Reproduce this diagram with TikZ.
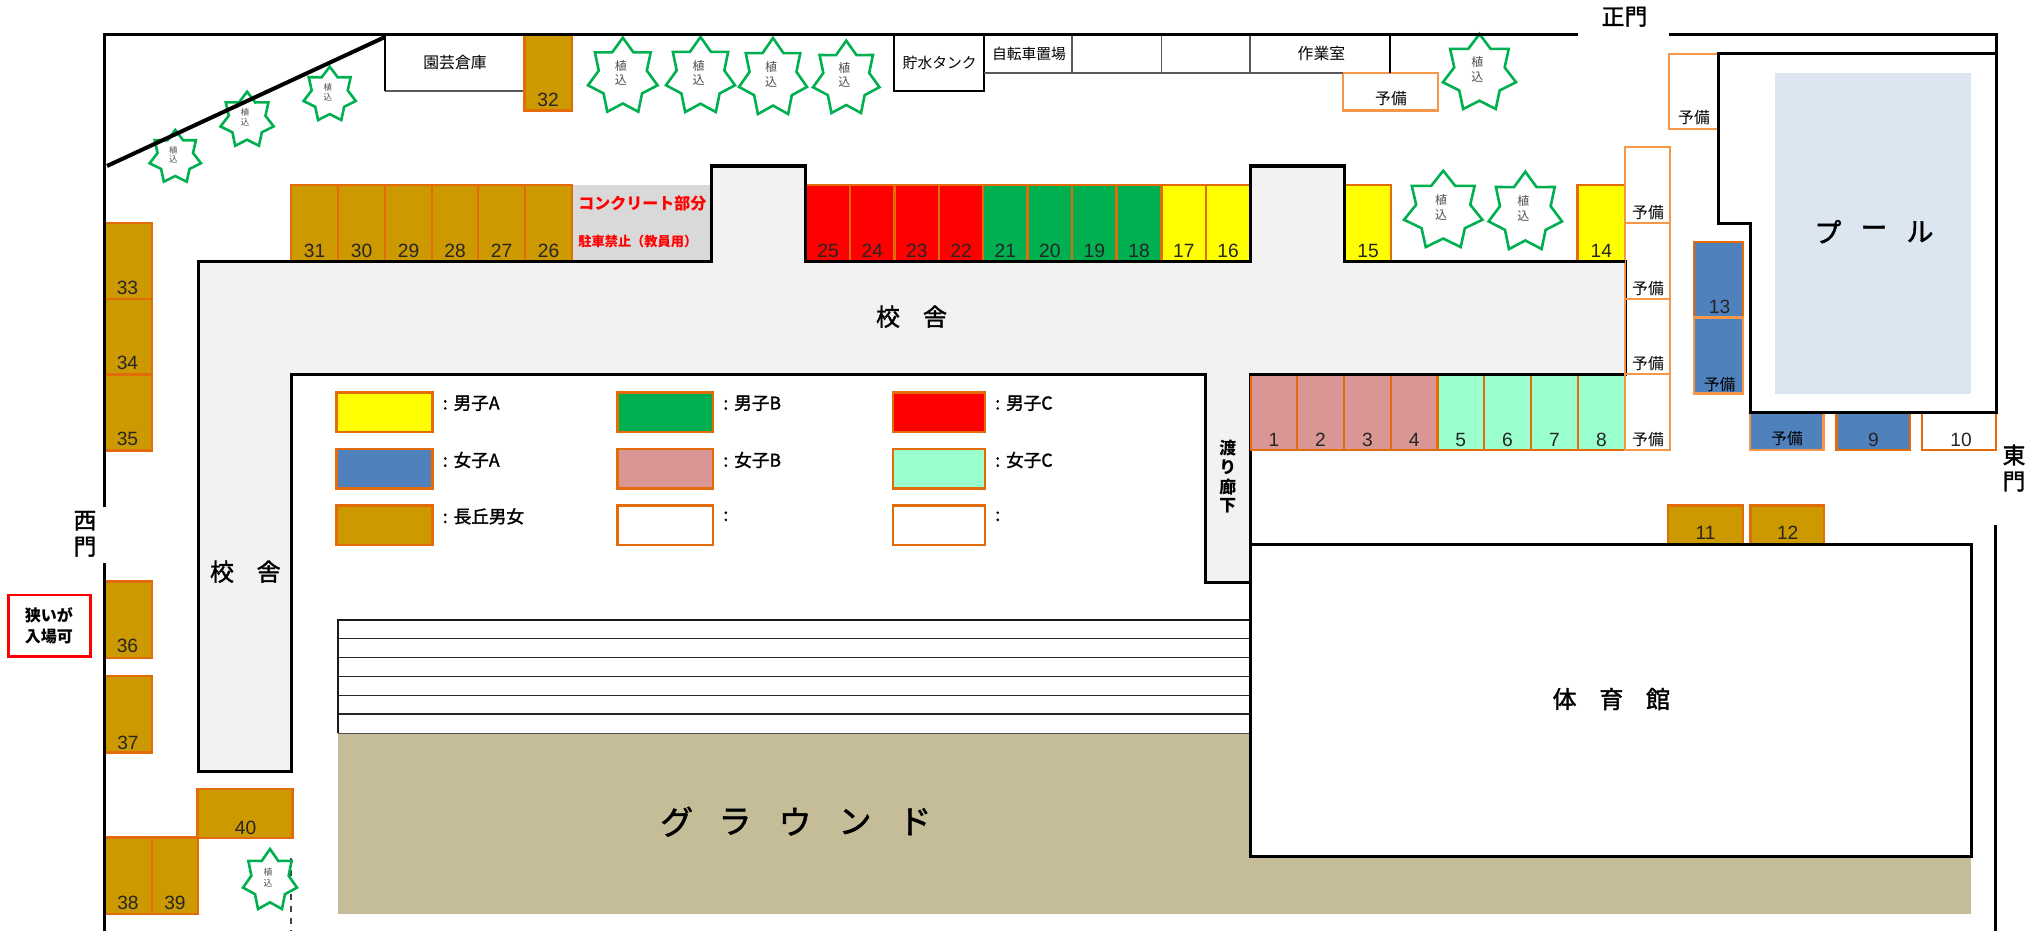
\documentclass[tikz,border=0pt]{standalone}
\usepackage{fontspec}
\setmainfont{Noto Sans CJK JP}
\newfontfamily\medjp[FakeBold=1.6]{Noto Sans CJK JP}
\newfontfamily\numfont{Liberation Sans}
\definecolor{cYel}{HTML}{FFFF00}
\definecolor{cGrn}{HTML}{00B050}
\definecolor{cRed}{HTML}{FF0000}
\definecolor{cBlu}{HTML}{4F81BD}
\definecolor{cPnk}{HTML}{D99694}
\definecolor{cMnt}{HTML}{99FFCC}
\definecolor{cBrn}{HTML}{CC9900}
\definecolor{cBld}{HTML}{F2F2F2}
\definecolor{cCon}{HTML}{D9D9D9}
\definecolor{cPol}{HTML}{DCE6F1}
\definecolor{cGnd}{HTML}{C4BD97}
\definecolor{cOrD}{HTML}{E36C0A}
\definecolor{cOrL}{HTML}{F79646}
\definecolor{cLine}{HTML}{595959}
\newcommand\fz[1]{\fontsize{#1}{#1}\selectfont}
\tikzset{
  wall/.style={draw=black,line width=1.5pt,line cap=butt,line join=miter},
  lightwall/.style={draw=cLine,line width=0.9pt},
  bay/.style={draw=cOrD,line width=1.25pt},
  spare/.style={draw=cOrL,line width=1.25pt},
  num/.style={font=\numfont\fz{9.6},text=black!85,inner sep=0pt},
  lab/.style={font=\fz{7.9},text=black,inner sep=0pt},
  big/.style={font=\medjp\fz{12},text=black,inner sep=0pt},
  plantline/.style={draw=cGrn,fill=white,line width=1.3pt,line join=miter},
  key/.style={font=\medjp\fz{8.8},text=black,inner sep=0pt,anchor=west},
}
% x1 y1 x2 y2 fill label labelx labely
\newcommand\bayrect[8]{%
  \draw[bay,fill=#5] (#1,#2) rectangle (#3,#4);
  \node[num] at (#7,#8) {#6};}
\newcommand\sparerect[8]{%
  \draw[spare,fill=#5] (#1,#2) rectangle (#3,#4);
  \node[lab] at (#7,#8) {#6};}
% left right top bottom size spacing
\newcommand\plantstar[6]{%
  \pgfmathsetmacro\stCx{(#1+#2)/2}
  \pgfmathsetmacro\stRx{(#2-#1)/1.95}
  \pgfmathsetmacro\stRy{(#4-#3)/1.9}
  \pgfmathsetmacro\stCy{#3+\stRy}
  \draw[plantline] plot[samples at={0,...,13},variable=\k]
    ({\stCx+(mod(\k,2)==0?1:0.69)*\stRx*cos(90+\k*360/14)},
     {\stCy-(mod(\k,2)==0?1:0.69)*\stRy*sin(90+\k*360/14)}) -- cycle;
  \node[font=\fz{#5},text=black!70,inner sep=0pt] at (\stCx-2,\stCy-#6*0.75) {植};
  \node[font=\fz{#5},text=black!70,inner sep=0pt] at (\stCx-2,\stCy+#6*0.25) {込};}
\begin{document}
\begin{tikzpicture}[x=0.5pt,y=-0.5pt]
\useasboundingbox (0,0) rectangle (2040,931);
% ground
\fill[cGnd] (338,733) rectangle (1971,914);
\fill[cPol] (1775,72.7) rectangle (1971.4,393.7);
\node[font=\medjp\fz{13.5},inner sep=0pt] at (1827.8,231.7) {プ};
\node[font=\medjp\fz{13.5},inner sep=0pt] at (1874,231.7) {ー};
\node[font=\medjp\fz{13.5},inner sep=0pt] at (1920,231.7) {ル};
\foreach \gx/\gt in {676.7/グ,735/ラ,795/ウ,855/ン,915/ド}
  \node[font=\medjp\fz{16.5},inner sep=0pt] at (\gx,821.7) {\gt};
% concrete
\fill[cCon] (573,185) rectangle (711,261);
\node[font=\bfseries\fz{8},text=cRed,inner sep=0pt,anchor=west] at (578,203.3) {コンクリート部分};
\node[font=\bfseries\fz{6.6},text=cRed,inner sep=0pt,anchor=west] at (578,241) {駐車禁止（教員用）};
% school building
\draw[wall,fill=cBld] (198,261) -- (711,261) -- (711,166) -- (805,166) -- (805,261)
  -- (1250,261) -- (1250,166) -- (1344,166) -- (1344,261) -- (1625,261) -- (1625,374)
  -- (1250,374) -- (1250,582) -- (1205.5,582) -- (1205.5,374) -- (291.5,374)
  -- (291.5,771.7) -- (198,771.7) -- cycle;
\node[big] at (888,316.7) {校};
\node[big] at (935,316.7) {舎};
\node[big] at (222,571.7) {校};
\node[big] at (268.7,571.7) {舎};
\foreach \wy/\wt in {448/渡,467.4/り,487/廊,505.6/下}
  \node[font=\bfseries\fz{8.4},inner sep=0pt] at (1227.7,\wy) {\wt};
% bays along the north side of the school
\foreach \xa/\xb/\n/\c in {291/338/31/cBrn,338/385/30/cBrn,385/432/29/cBrn,432/478/28/cBrn,478/525/27/cBrn,525/572/26/cBrn,
  806/850/25/cRed,850/894.6/24/cRed,894.6/939/23/cRed,939/983/22/cRed,983/1027.7/21/cGrn,1027.7/1072/20/cGrn,1072/1116.5/19/cGrn,1116.5/1161.6/18/cGrn,1161.6/1206/17/cYel,1206/1250/16/cYel,
  1345/1391/15/cYel,1577.5/1625/14/cYel}
  {\draw[bay,fill=\c] (\xa,185) rectangle (\xb,261);
   \pgfmathsetmacro\mx{(\xa+\xb)/2}
   \node[num] at (\mx,251) {\n};}
% bays 1-8
\foreach \xa/\xb/\n/\c in {1251/1297/1/cPnk,1297/1344/2/cPnk,1344/1391/3/cPnk,1391/1437.5/4/cPnk,1437.5/1484/5/cMnt,1484/1531/6/cMnt,1531/1578/7/cMnt,1578/1625/8/cMnt}
  {\draw[bay,fill=\c] (\xa,374) rectangle (\xb,450);
   \pgfmathsetmacro\mx{(\xa+\xb)/2}
   \node[num] at (\mx,440) {\n};}
\draw[wall] (1250,374) -- (1625,374) (1344,261) -- (1625,261);
\draw[wall] (711,261) -- (711,166) -- (805,166) -- (805,261) -- (1250,261) -- (1250,166) -- (1344,166) -- (1344,261);
\draw[wall] (198,261) -- (711,261);
% reserve column
\foreach \ya/\yb in {147/223,223/299,299/374,374/450}
  {\draw[spare] (1625,\ya) rectangle (1670,\yb);
   \pgfmathsetmacro\my{\yb-10}
   \node[lab] at (1648,\my) {予備};}
\draw[wall] (1577,261) -- (1625,261) (1250,374) -- (1624,374);
\sparerect{1669}{54}{1718}{129}{white}{予備}{1694}{118}
\sparerect{1343}{73}{1438}{110.7}{white}{予備}{1391}{99}
% west side bays
\bayrect{104}{223}{152}{299}{cBrn}{33}{127.5}{288}
\bayrect{104}{299}{152}{374.3}{cBrn}{34}{127.5}{363}
\bayrect{104}{374.3}{152}{450.7}{cBrn}{35}{127.5}{439}
\bayrect{104}{581.7}{152}{658}{cBrn}{36}{127.5}{646}
\bayrect{104}{676}{152}{752.7}{cBrn}{37}{128}{743}
\bayrect{104}{837.7}{152}{914}{cBrn}{38}{128}{903}
\bayrect{152}{837.7}{198}{914}{cBrn}{39}{175}{903}
\bayrect{197.3}{789}{292.4}{838}{cBrn}{40}{245.5}{828}
\bayrect{524.5}{35}{572}{110.7}{cBrn}{32}{548}{99.5}
% east bays
\bayrect{1694}{242}{1743}{317.7}{cBlu}{13}{1719.6}{307}
\sparerect{1694}{317.7}{1743}{393.7}{cBlu}{予備}{1719.6}{385}
\sparerect{1750}{412}{1823.7}{450}{cBlu}{予備}{1787}{439}
\bayrect{1836.7}{412}{1910}{450}{cBlu}{9}{1873.5}{440}
\bayrect{1922}{412}{1996}{450}{white}{10}{1961}{440}
\bayrect{1668}{505.6}{1743}{544.5}{cBrn}{11}{1705.5}{533}
\bayrect{1750.5}{505.6}{1824}{544.5}{cBrn}{12}{1787.7}{533}
% stands
\fill[white] (338,620) rectangle (1250,733.3);
\foreach \sy in {638.7,657.7,676.3,695.3,714}
  \draw[draw=black!85,line width=0.7pt] (338,\sy) -- (1250,\sy);
\draw[draw=black!70,line width=0.7pt] (338,733.3) -- (1250,733.3);
\draw[draw=black!90,line width=1.2pt] (338,733.3) -- (338,620) -- (1250,620);
% gym
\draw[wall,fill=white] (1250,544.5) rectangle (1971,856);
\node[big] at (1564.6,699) {体};
\node[big] at (1611.4,699) {育};
\node[big] at (1658,699) {館};
% top rooms
\draw[lightwall] (523,91) -- (385,91);
\draw[wall,line width=1.2pt] (385,35) -- (385,91);
\node[lab] at (455,62.3) {園芸倉庫};
\draw[wall,line width=1pt] (894,35) -- (894,91) -- (983.5,91) -- (983.5,35);
\node[font=\fz{7.4},inner sep=0pt] at (939.7,62.7) {貯水タンク};
\draw[lightwall] (983.5,72.7) -- (1343,72.7);
\foreach \tx in {1072,1161.5,1250}
  \draw[lightwall] (\tx,35) -- (\tx,72.7);
\draw[wall,line width=1pt] (1389.5,35) -- (1389.5,72.7);
\node[font=\fz{7.4},inner sep=0pt] at (1029,53.7) {自転車置場};
\node[lab] at (1321.4,53.7) {作業室};
% planting
\plantstar{149.6}{201}{130}{181.7}{4.2}{9.5}
\plantstar{220.5}{273.7}{91.7}{145.7}{4.2}{10}
\plantstar{303.6}{355.8}{66.7}{120}{4.2}{10}
\plantstar{588}{657.6}{37.7}{111.7}{6}{14.7}
\plantstar{666}{735}{37}{112}{6}{14.7}
\plantstar{739}{807}{38}{114}{6}{14.7}
\plantstar{813}{879.5}{40.7}{113}{6}{14.7}
\plantstar{1442.9}{1516}{34}{109}{6}{15}
\plantstar{1404}{1482.4}{170.7}{247}{6}{15}
\plantstar{1488.6}{1562}{171.7}{249}{6}{15}
% dashed boundary
\draw[draw=black!75,line width=0.7pt,dashed] (291,858) -- (291,931);
\plantstar{243}{297}{849}{909}{4.4}{11}
% outer walls
\draw[wall] (104.5,507) -- (104.5,35) -- (1578,35);
\draw[wall] (104.5,563) -- (104.5,931);
\draw[wall] (1669,35) -- (1996,35) -- (1996,412) -- (1750,412) -- (1750,223) -- (1718,223) -- (1718,54) -- (1996,54);
\draw[wall] (1995,525) -- (1995,931);
\draw[draw=black,line width=2pt] (107,166) -- (385,37);
% gate labels
\node[big] at (85,520.7) {\fz{11.4}西};
\node[big] at (85,546.7) {\fz{11.4}門};
\node[big] at (1613,16.7) {\fz{11.4}正};
\node[big] at (1636,16.7) {\fz{11.4}門};
\node[big] at (2014,455) {\fz{11.4}東};
\node[big] at (2014,481.5) {\fz{11.4}門};
% note
\draw[draw=cRed,line width=1.4pt,fill=white] (8.5,595) rectangle (90.6,656.7);
\node[font=\bfseries\fz{8},inner sep=0pt] at (49,615) {狭いが};
\node[font=\bfseries\fz{8},inner sep=0pt] at (49,636.7) {入場可};
% legend
\foreach \lx/\ly/\c/\t in {
  336.7/392.3/cYel/男子A,617.3/392.3/cGrn/男子B,892.9/392.3/cRed/男子C,
  336.7/449/cBlu/女子A,617.3/449/cPnk/女子B,892.9/449/cMnt/女子C,
  336.7/505.3/cBrn/長丘男女,617.3/505.3/white/{},892.9/505.3/white/{}}
  {\pgfmathsetmacro\lxb{\lx+(\lx>890?92:95.7)}
   \pgfmathsetmacro\lyb{\ly+39.7}
   \pgfmathsetmacro\tx{\lxb+10}
   \pgfmathsetmacro\ty{\ly+11}
   \draw[bay,fill=\c] (\lx,\ly) rectangle (\lxb,\lyb);
   \node[key] at (\tx,\ty) {:\hspace{3pt}\t};}
\end{tikzpicture}
\end{document}
